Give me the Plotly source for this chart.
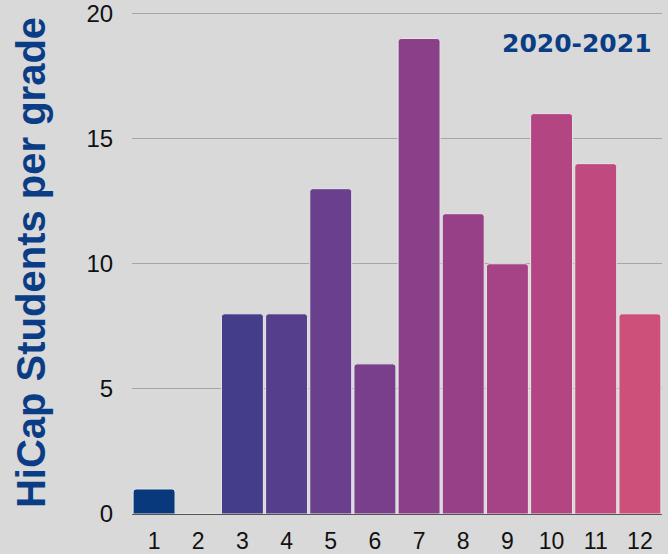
import plotly.graph_objects as go

grades = ["1", "2", "3", "4", "5", "6", "7", "8", "9", "10", "11", "12"]
students = [1, 0, 8, 8, 13, 6, 19, 12, 10, 16, 14, 8]
bar_colors = ["#08397d", "#2a3b84", "#433d8a", "#553e8c", "#6a3f8e", "#7a3f8c",
              "#8a3f89", "#984087", "#a64386", "#b44583", "#c0497f", "#cd507b"]
year_label = "2020-2021"
y_title = "HiCap Students per grade"
y_ticks = [0, 5, 10, 15, 20]

fig = go.Figure(go.Bar(
    x=grades, y=students,
    marker=dict(color=bar_colors, line=dict(color="#e6e6e6", width=1), cornerradius=3),
))

fig.update_layout(
    width=668, height=554,
    margin=dict(l=132, r=6, t=11, b=40),
    paper_bgcolor="#d9d9d9", plot_bgcolor="#d9d9d9",
    bargap=0.05,
    showlegend=False,
    font=dict(family="Liberation Sans, Arial, sans-serif", color="#000000"),
    xaxis=dict(type="category", showgrid=False, showline=True, linecolor="#555555", linewidth=1,
               tickfont=dict(size=23, color="#111111"), ticks="outside", ticklen=6,
               tickcolor="rgba(0,0,0,0)", automargin=False),
    yaxis=dict(range=[0, 20.1], tickvals=y_ticks, showgrid=True, gridcolor="#a6a6a6", gridwidth=1,
               zeroline=False, tickfont=dict(size=24, color="#111111"),
               ticks="outside", ticklen=13, tickcolor="rgba(0,0,0,0)",
               ticklabeloverflow="allow", automargin=False,
               title=dict(text="<b>" + y_title + "</b>",
                          font=dict(family="Liberation Sans, Arial, sans-serif", size=40, color="#0a3d85"),
                          standoff=28)),
    annotations=[dict(text="<b>" + year_label + "</b>", x=0.985, y=0.936, xref="paper", yref="paper",
                      xanchor="right", yanchor="middle", showarrow=False,
                      font=dict(family="DejaVu Sans, sans-serif", size=25, color="#0a3d85"))],
)

fig.write_html("out.html", config={"displayModeBar": False},
               post_script="document.body.style.margin='0';document.body.style.overflow='hidden';")
